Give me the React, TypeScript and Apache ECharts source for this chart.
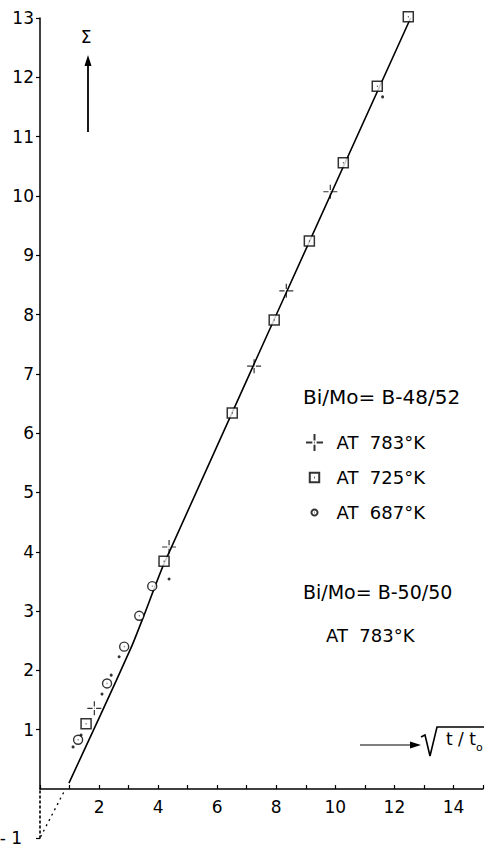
import React, { useEffect, useRef } from 'react';
import * as echarts from 'echarts';

// ---- data ----
const xTickLabels = [2, 4, 6, 8, 10, 12, 14];
const yTickLabels = [1, 2, 3, 4, 5, 6, 7, 8, 9, 10, 11, 12, 13];
const yLowerTick = [-1];

const cross783 = [
  [1.84, 1.36], [4.37, 4.08], [7.25, 7.13], [8.34, 8.4], [9.83, 10.07],
];
const square725 = [
  [1.56, 1.1], [4.2, 3.84], [6.51, 6.34], [7.93, 7.91], [9.12, 9.24],
  [10.27, 10.56], [11.42, 11.85], [12.47, 13.02],
];
const circle687 = [
  [1.29, 0.83], [2.27, 1.78], [2.85, 2.4], [3.36, 2.92], [3.8, 3.42],
];
const dots5050 = [
  [1.12, 0.71], [1.39, 0.91], [2.1, 1.6], [2.41, 1.92], [2.68, 2.23],
  [4.37, 3.54], [11.6, 11.67],
];
const fitLine = [
  [0.98, 0.1], [2.05, 1.25], [3.1, 2.4], [3.5, 2.9], [4.2, 3.8], [12.55, 13.0],
];
const extrapolation = [[0.8, -0.07], [0, -1]];

// ---- styling ----
const FONT = '"DejaVu Sans", "Liberation Sans", sans-serif';
const INK = '#000';

const CROSS = 'path://M0,8L6,8M10,8L16,8M8,0L8,6M8,10L8,16M7.7,8L8.3,8';
const SQUARE = 'path://M0,0L10,0L10,10L0,10ZM4.6,5L5.4,5';
const CIRCLE = 'path://M10,5A5,5,0,1,1,0,5A5,5,0,1,1,10,5ZM4.6,5L5.4,5';
const SQUARE_LEG = 'path://M-4,-4M14,14M0,0L10,0L10,10L0,10ZM4.6,5L5.4,5';
const CIRCLE_LEG = 'path://M-9,-9M19,19M10,5A5,5,0,1,1,0,5A5,5,0,1,1,10,5ZM4.6,5L5.4,5';

export default function App() {
  const ref = useRef<HTMLDivElement>(null);

  useEffect(() => {
    if (!ref.current) return;
    const chart = echarts.init(ref.current, undefined, { renderer: 'svg' });
    const textStyle = { fontFamily: FONT, fontSize: 17, fill: INK };
    const labelStyle = { color: INK, fontFamily: FONT, fontSize: 17 };

    chart.setOption({
      animation: false,
      backgroundColor: '#fff',
      grid: [
        { left: 40, right: 3, top: 18, bottom: 60, containLabel: false, outerBoundsMode: 'none' },
        { left: 40, right: 3, top: 789, bottom: 11, containLabel: false, outerBoundsMode: 'none' },
      ],
      xAxis: [
        {
          type: 'value',
          gridIndex: 0,
          min: 0,
          max: 15,
          interval: 1,
          splitLine: { show: false },
          axisLine: { show: true, lineStyle: { color: INK, width: 1.5 } },
          axisTick: { show: true, inside: true, length: 4, lineStyle: { color: INK, width: 1.2 } },
          axisLabel: { ...labelStyle, customValues: xTickLabels, margin: 9 },
        },
        {
          type: 'value',
          gridIndex: 1,
          min: 0,
          max: 15,
          show: false,
        },
      ],
      yAxis: [
        {
          type: 'value',
          gridIndex: 0,
          min: 0,
          max: 13,
          interval: 1,
          splitLine: { show: false },
          axisLine: { show: true, lineStyle: { color: INK, width: 1.5 } },
          axisTick: { show: true, customValues: yTickLabels, length: 4, lineStyle: { color: INK, width: 1.2 } },
          axisLabel: { ...labelStyle, customValues: yTickLabels, margin: 6 },
        },
        {
          type: 'value',
          gridIndex: 1,
          min: -1,
          max: 0,
          splitLine: { show: false },
          axisLine: { show: true, lineStyle: { color: INK, width: 1.6, type: [2, 3] } },
          axisTick: { show: true, customValues: yLowerTick, length: 4, lineStyle: { color: INK, width: 1.2 } },
          axisLabel: {
            ...labelStyle,
            customValues: yLowerTick,
            margin: 6,
            formatter: () => '{neg|- 1}',
            rich: { neg: { ...labelStyle, padding: [0, 12, 0, 0] } },
          },
        },
      ],
      legend: {
        orient: 'vertical',
        left: 300,
        top: 428,
        itemWidth: 28,
        itemHeight: 17,
        itemGap: 16,
        textStyle: { fontFamily: FONT, fontSize: 18, color: INK, padding: [0, 0, 0, 3] },
        formatter: (name: string) => name.replace('AT ', 'AT  '),
        data: [
          { name: 'AT 783°K', icon: CROSS },
          { name: 'AT 725°K', icon: SQUARE_LEG },
          { name: 'AT 687°K', icon: CIRCLE_LEG },
        ],
      },
      series: [
        {
          type: 'line', xAxisIndex: 1, yAxisIndex: 1, data: extrapolation,
          showSymbol: false, silent: true, clip: false,
          lineStyle: { color: INK, width: 1.3, type: [2, 4] },
        },
        {
          name: 'fit', type: 'line', data: fitLine, showSymbol: false, silent: true, clip: false,
          smooth: 0.2,
          lineStyle: { color: INK, width: 1.6 },
        },
        {
          name: 'AT 783°K', type: 'scatter', data: cross783, symbol: CROSS, symbolSize: 14,
          clip: false,
          itemStyle: { color: 'rgba(0,0,0,0)', borderColor: INK, borderWidth: 1.2 }, z: 5,
        },
        {
          name: 'AT 725°K', type: 'scatter', data: square725, symbol: SQUARE, symbolSize: 10,
          clip: false,
          itemStyle: { color: '#fff', borderColor: INK, borderWidth: 1.5 }, z: 5,
        },
        {
          name: 'AT 687°K', type: 'scatter', data: circle687, symbol: CIRCLE, symbolSize: 9,
          clip: false,
          itemStyle: { color: '#fff', borderColor: INK, borderWidth: 1.4 }, z: 5,
        },
        {
          name: 'B-50/50 AT 783°K', type: 'scatter', data: dots5050, symbol: 'circle', symbolSize: 3,
          clip: false,
          itemStyle: { color: INK }, z: 5,
        },
      ],
      graphic: [
        { type: 'text', x: 86, y: 37, style: { ...textStyle, text: 'Σ', align: 'center', verticalAlign: 'middle' } },
        { type: 'line', shape: { x1: 88, y1: 132, x2: 88, y2: 64 }, style: { stroke: INK, lineWidth: 1.8 } },
        { type: 'polygon', shape: { points: [[84.5, 66], [88, 55], [91.5, 66]] }, style: { fill: INK } },
        { type: 'text', x: 303, y: 397, style: { ...textStyle, fontSize: 20, text: 'Bi/Mo= B-48/52', verticalAlign: 'middle' } },
        { type: 'text', x: 303, y: 592, style: { ...textStyle, fontSize: 19, text: 'Bi/Mo= B-50/50', verticalAlign: 'middle' } },
        { type: 'text', x: 326, y: 635, style: { ...textStyle, fontSize: 18, text: 'AT  783°K', verticalAlign: 'middle' } },
        { type: 'line', shape: { x1: 360, y1: 745, x2: 412, y2: 745 }, style: { stroke: INK, lineWidth: 1.2 } },
        { type: 'polygon', shape: { points: [[410, 741.5], [421, 745], [410, 748.5]] }, style: { fill: INK } },
        {
          type: 'polyline',
          shape: { points: [[421, 737], [425, 735], [430, 756], [437, 727], [484, 727]] },
          style: { stroke: INK, lineWidth: 1.6, fill: 'none' },
        },
        { type: 'text', x: 446, y: 739, style: { ...textStyle, text: 't / t', verticalAlign: 'middle' } },
        { type: 'text', x: 476, y: 747, style: { ...textStyle, fontSize: 11, text: 'o', verticalAlign: 'middle' } },
      ],
    });

    return () => chart.dispose();
  }, []);

  return (
    <div
      ref={ref}
      style={{ position: 'absolute', left: 0, top: 0, width: 486, height: 849 }}
    />
  );
}
